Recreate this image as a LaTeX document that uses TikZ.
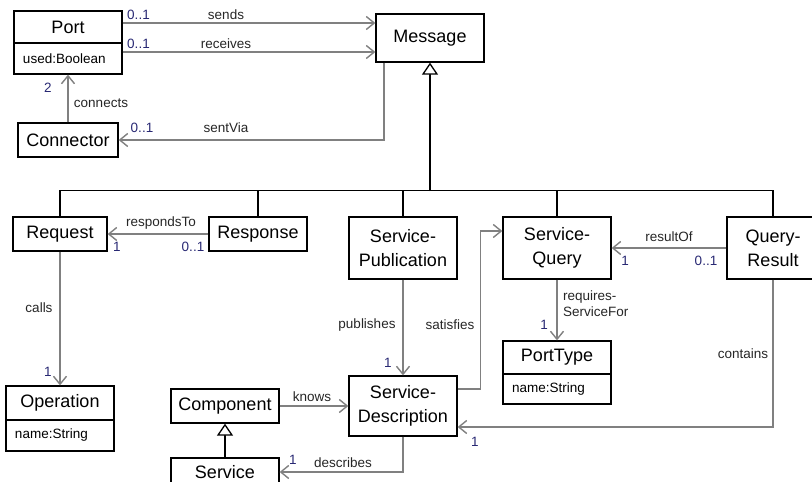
\documentclass[tikz,border=0pt]{standalone}
\usepackage{fontspec}
\setmainfont{Liberation Sans}
\usetikzlibrary{arrows.meta}
\definecolor{linegray}{RGB}{128,128,128}
\definecolor{multcol}{RGB}{40,40,115}

\begin{document}
\begin{tikzpicture}[x=1pt,y=-1pt,
	cls/.style={draw=black, line width=1.3pt, fill=white, inner sep=0pt, align=center, minimum width=108pt, font=\fontsize{18}{24}\selectfont},
	attr/.style={draw=black, line width=1.3pt, fill=white, inner sep=0pt, inner xsep=9pt, text width=90pt, align=left, font=\fontsize{13.5}{16}\selectfont},
	lbl/.style={inner sep=0pt, text=black!85, font=\fontsize{13.5}{16}\selectfont},
	mult/.style={lbl, text=multcol},
	assoc/.style={draw=linegray, line width=1.4pt, -{Straight Barb[length=8pt,width=13pt]}},
	gen/.style={draw=black, line width=1.3pt},
	genarrow/.style={gen, -{Triangle[open,length=12pt,width=16pt,fill=white]}}]
	\useasboundingbox (0,0) rectangle (812,482);
	\clip (0,0) rectangle (812,482);
	\coordinate (bus) at (430,191);
	
	% classes
	\node[cls, minimum height=32pt] (port) at (68,27) {Port};
	\node[attr, minimum height=31pt] (portattr) at (68,58.5) {used:Boolean};
	\node[cls, minimum height=48pt] (message) at (430,38) {Message};
	\node[cls, minimum width=100pt, minimum height=34pt] (connector) at (68,140) {Connector};
	\node[cls, minimum width=94pt, minimum height=34pt] (request) at (60,234) {Request};
	\node[cls, minimum width=98pt, minimum height=34pt] (response) at (258,234) {Response};
	\node[cls, minimum height=62pt] (servpub) at (403,248) {Service-\\Publication};
	\node[cls, minimum height=62pt] (servquery) at (557,248) {Service-\\Query};
	\node[cls, minimum width=92pt, minimum height=62pt] (queryres) at (773,248) {Query-\\Result};
	\node[cls, minimum height=60pt] (servdesc) at (403,406) {Service-\\Description};
	\node[cls, minimum height=33pt] (porttype) at (557,357.5) {PortType};
	\node[attr, minimum height=30pt] (porttypeattr) at (557,389) {name:String};
	\node[cls, minimum height=34pt] (operation) at (60,403) {Operation};
	\node[attr, minimum height=31pt] (operationattr) at (60,435.5) {name:String};
	\node[cls, minimum height=34pt] (component) at (225,406) {Component};
	\node[cls, minimum height=28pt] (service) at (225,472) {Service};
	
	% generalizations
	\draw[gen] (request.north) -- ++(0,-26) -| (queryres.north);
	\draw[gen] (response.north) -- ++(0,-26);
	\draw[gen] (servpub.north) -- ++(0,-26);
	\draw[gen] (servquery.north) -- ++(0,-26);
	\draw[genarrow] (bus) -- (message.south);
	\draw[genarrow] (service.north) -- (component.south);
	
	% associations
	\draw[assoc] ([yshift=4pt]port.east) -- ([yshift=15pt]message.west);
	\draw[assoc] ([yshift=6.5pt]portattr.east) -- ([yshift=-14pt]message.west);
	\draw[assoc] (connector.north) -- (portattr.south);
	\draw[assoc] ([xshift=-46pt]message.south) |- (connector.east);
	\draw[assoc] (response.west) -- (request.east);
	\draw[assoc] (queryres.west) -- (servquery.east);
	\draw[assoc] ([yshift=17pt]servdesc.east) -- ++(23,0) |- ([yshift=17pt]servquery.west);
	\draw[assoc] (servpub.south) -- (servdesc.north);
	\draw[assoc] (servquery.south) -- (porttype.north);
	\draw[assoc] (queryres.south) |- ([yshift=-21pt]servdesc.east);
	\draw[assoc] (request.south) -- (operation.north);
	\draw[assoc] (component.east) -- (servdesc.west);
	\draw[assoc] (servdesc.south) |- (service.east);
	
	% labels
	\node[mult] (m1) at (138.5,15) {0..1};
	\node[lbl] (l1) at (226,15) {sends};
	\node[mult] (m2) at (138.5,44) {0..1};
	\node[lbl] (l2) at (226,44) {receives};
	\node[mult] (m3) at (48,88) {2};
	\node[lbl] (l3) at (101,103) {connects};
	\node[mult] (m4) at (142,128) {0..1};
	\node[lbl] (l4) at (226,128) {sentVia};
	\node[lbl] (l5) at (161,223) {respondsTo};
	\node[mult] (m5a) at (117,247) {1};
	\node[mult] (m5b) at (193,247) {0..1};
	\node[lbl] (l6) at (669,237) {resultOf};
	\node[mult] (m6a) at (625,261) {1};
	\node[mult] (m6b) at (706,261) {0..1};
	\node[lbl] (l7) at (450,325) {satisfies};
	\node[lbl] (l8) at (367,325) {publishes};
	\node[mult] (m8) at (388,363) {1};
	\node[lbl, anchor=west, align=left] (l9) at (563,304) {requires-\\ServiceFor};
	\node[mult] (m9) at (544,325) {1};
	\node[lbl] (l10) at (743,354) {contains};
	\node[mult] (m10) at (475,442) {1};
	\node[lbl] (l11) at (39,308) {calls};
	\node[mult] (m11) at (48,372) {1};
	\node[lbl] (l12) at (312,397) {knows};
	\node[lbl] (l13) at (343,463) {describes};
	\node[mult] (m13) at (293,460) {1};
\end{tikzpicture}
\end{document}
